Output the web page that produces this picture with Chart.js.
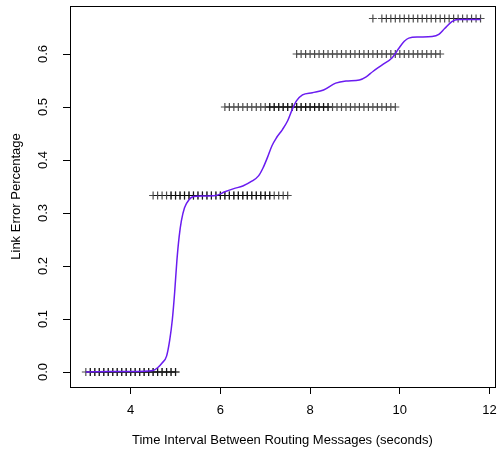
<!DOCTYPE html>
<html>
<head>
<meta charset="utf-8">
<script src="https://cdn.jsdelivr.net/npm/chart.js@4"></script>
<style>
  body { margin: 0; background: #fff; }
  canvas { display: block; }
</style>
</head>
<body>
<canvas id="myChart" width="500" height="455"></canvas>
<script>
// error levels the points sit on
const levels = [0, 0.333, 0.5, 0.6, 0.667];

// x positions of the "+" marks on each level
const xAt0 = [3.0, 3.1, 3.2, 3.3, 3.4, 3.5, 3.6, 3.7, 3.8, 3.9, 4.0, 4.1, 4.2, 4.3, 4.4, 4.5, 4.6, 4.7, 4.8, 4.9, 5.0];
const xAt1 = [4.5, 4.6, 4.7, 4.8, 4.9, 5.0, 5.1, 5.2, 5.3, 5.4, 5.5, 5.6, 5.7, 5.8, 5.9, 6.0, 6.1, 6.2, 6.3, 6.4, 6.5, 6.6, 6.7, 6.8, 6.9, 7.0, 7.1, 7.2, 7.3, 7.4, 7.5];
const xAt2 = [6.1, 6.2, 6.3, 6.4, 6.5, 6.6, 6.7, 6.8, 6.9, 7.0, 7.1, 7.2, 7.3, 7.4, 7.5, 7.6, 7.7, 7.8, 7.9, 8.0, 8.1, 8.2, 8.3, 8.4, 8.5, 8.6, 8.7, 8.8, 8.9, 9.0, 9.1, 9.2, 9.3, 9.4, 9.5, 9.6, 9.7, 9.8, 9.9];
const xAt3 = [7.7, 7.8, 7.9, 8.0, 8.1, 8.2, 8.3, 8.4, 8.5, 8.6, 8.7, 8.8, 8.9, 9.0, 9.1, 9.2, 9.3, 9.4, 9.5, 9.6, 9.7, 9.8, 9.9, 10.0, 10.1, 10.2, 10.3, 10.4, 10.5, 10.6, 10.7, 10.8, 10.9];
const xAt4 = [9.4, 9.6, 9.7, 9.8, 9.9, 10.0, 10.1, 10.2, 10.3, 10.4, 10.5, 10.6, 10.7, 10.8, 10.9, 11.0, 11.1, 11.2, 11.3, 11.4, 11.5, 11.6, 11.7, 11.8];

// x values that occur more than once (the darker stretches)
const repeatAt0 = [3.1, 3.2, 3.3, 3.4, 3.5, 3.6, 3.7, 3.8, 3.9, 4.0, 4.1, 4.2, 4.3, 4.4, 4.5, 4.6, 4.7, 4.8, 4.9, 5.0];
const repeatAt1 = [4.9, 5.0, 5.1, 5.2, 5.3, 5.4, 5.5, 5.6, 5.7, 5.8, 5.9, 6.0, 6.1, 6.2, 6.3, 6.4, 6.5, 6.6, 6.7, 6.8, 6.9, 7.0, 7.1];
const repeatAt2 = [7.1, 7.2, 7.3, 7.4, 7.5, 7.6, 7.7, 7.8, 7.9, 8.0, 8.1, 8.2, 8.3, 8.4];

// smoothed curve
const curveX = [3.0, 3.5, 4.0, 4.5, 4.6, 4.7, 4.8, 4.87, 4.93, 4.98, 5.03, 5.08, 5.13, 5.2, 5.3, 5.4, 5.6, 5.9, 6.1, 6.3, 6.5, 6.7, 6.85, 6.95, 7.05, 7.15, 7.25, 7.38, 7.5, 7.6, 7.7, 7.83, 8.05, 8.3, 8.57, 8.8, 9.1, 9.25, 9.4, 9.6, 9.83, 9.98, 10.1, 10.2, 10.42, 10.72, 10.87, 11.0, 11.16, 11.3, 11.8];
const curveY = [0, 0.001, 0.001, 0.003, 0.008, 0.017, 0.03, 0.06, 0.1, 0.15, 0.21, 0.255, 0.285, 0.31, 0.325, 0.331, 0.332, 0.333, 0.34, 0.346, 0.351, 0.36, 0.37, 0.385, 0.405, 0.427, 0.442, 0.457, 0.474, 0.495, 0.512, 0.523, 0.527, 0.532, 0.545, 0.549, 0.551, 0.557, 0.567, 0.579, 0.593, 0.611, 0.624, 0.63, 0.632, 0.633, 0.637, 0.648, 0.661, 0.665, 0.665];

const xTicks = [4, 6, 8, 10, 12];
const yTicks = [0.0, 0.1, 0.2, 0.3, 0.4, 0.5, 0.6];

const xGroups = [xAt0, xAt1, xAt2, xAt3, xAt4];
const repeatGroups = [repeatAt0, repeatAt1, repeatAt2, [], []];

const pointData = [];
xGroups.forEach((xs, i) => {
    xs.concat(repeatGroups[i]).forEach(x => pointData.push({ x: x, y: levels[i] }));
});
const curveData = curveX.map((x, i) => ({ x: x, y: curveY[i] }));

const FONT = '"Liberation Sans", Arial, Helvetica, sans-serif';

// R style box round the plot
const boxPlugin = {
    id: 'box',
    afterDraw(chart) {
        const a = chart.chartArea;
        const ctx = chart.ctx;
        ctx.save();
        ctx.strokeStyle = '#000';
        ctx.lineWidth = 1;
        ctx.strokeRect(Math.round(a.left) + 0.5, Math.round(a.top) + 0.5,
            Math.round(a.right - a.left), Math.round(a.bottom - a.top));
        ctx.restore();
    }
};

// no extra room for overhanging labels
function noPadding(s) {
    s.paddingLeft = 0;
    s.paddingRight = 0;
    s.paddingTop = 0;
    s.paddingBottom = 0;
}

new Chart(document.getElementById('myChart').getContext('2d'), {
    type: 'scatter',
    data: {
        datasets: [{
            label: 'curve',
            data: curveData,
            showLine: true,
            borderColor: '#6a1cf0',
            borderWidth: 1.5,
            pointRadius: 0,
            cubicInterpolationMode: 'monotone',
            order: 0
        }, {
            label: 'points',
            data: pointData,
            pointStyle: 'cross',
            pointRadius: 4,
            borderColor: 'rgba(0,0,0,0.7)',
            borderWidth: 1.2,
            order: 1
        }]
    },
    plugins: [boxPlugin],
    options: {
        responsive: false,
        animation: false,
        events: [],
        layout: { padding: { top: 6, right: 3, left: 0, bottom: 0 } },
        plugins: { legend: { display: false }, tooltip: { enabled: false } },
        scales: {
            x: {
                type: 'linear',
                min: 2.647,
                max: 12.118,
                afterFit: s => { s.height = 68; noPadding(s); },
                afterBuildTicks: s => { s.ticks = xTicks.map(v => ({ value: v })); },
                border: { display: false },
                grid: { drawOnChartArea: false, drawTicks: true, tickLength: 7, color: '#000' },
                ticks: { color: '#000', padding: 9, font: { family: FONT, size: 13 }, maxRotation: 0 },
                title: {
                    display: true,
                    text: 'Time Interval Between Routing Messages (seconds)',
                    color: '#000',
                    font: { family: FONT, size: 13 },
                    padding: { top: 0, bottom: 7 }
                }
            },
            y: {
                type: 'linear',
                min: -0.0283,
                max: 0.6906,
                afterFit: s => { s.width = 70; noPadding(s); },
                afterBuildTicks: s => { s.ticks = yTicks.map(v => ({ value: v })); },
                border: { display: false },
                grid: { drawOnChartArea: false, drawTicks: true, tickLength: 7, color: '#000' },
                ticks: {
                    color: '#000',
                    padding: 11,
                    crossAlign: 'center',
                    minRotation: 90,
                    maxRotation: 90,
                    font: { family: FONT, size: 13 },
                    callback: v => v.toFixed(1)
                },
                title: {
                    display: true,
                    text: 'Link Error Percentage',
                    color: '#000',
                    font: { family: FONT, size: 13 },
                    padding: { top: 9, bottom: 0 }
                }
            }
        }
    }
});
</script>
</body>
</html>
